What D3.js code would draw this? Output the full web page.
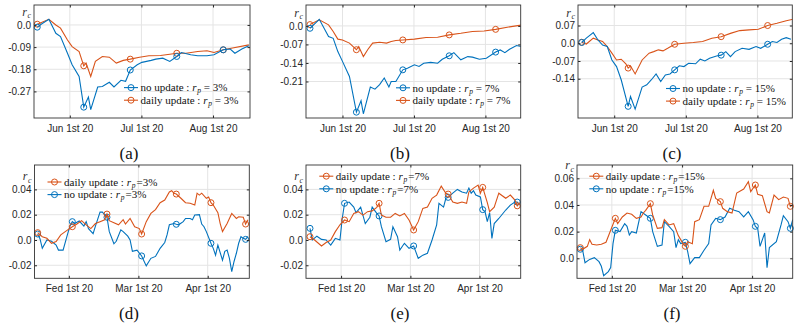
<!DOCTYPE html>
<html>
<head>
<meta charset="utf-8">
<script src="https://cdn.jsdelivr.net/npm/d3@7"></script>
<style>
  body { margin: 0; background: #fff; }
  .tick text { font-family: "Liberation Sans", Arial, sans-serif; font-size: 10px; fill: #262626; }
  .serif { font-family: "Liberation Serif", "Times New Roman", serif; }
</style>
</head>
<body>
<svg id="fig" width="812" height="323"></svg>
<script>
// x ticks (day index) and labels
var topTickIdx = [14, 44.8, 75.6];
var topTickLabels = ["Jun 1st 20", "Jul 1st 20", "Aug 1st 20"];
var botTickIdx = [13.5, 43.6, 73.6];
var botTickLabels = ["Fed 1st 20", "Mar 1st 20", "Apr 1st 20"];

// y ticks per panel
var aYTicks = [0, -0.09, -0.18, -0.27], aYLabels = ["0.0", "-0.09", "-0.18", "-0.27"];
var bYTicks = [0, -0.07, -0.14, -0.21], bYLabels = ["0.0", "-0.07", "-0.14", "-0.21"];
var cYTicks = [0.07, 0, -0.07, -0.14], cYLabels = ["0.07", "0.0", "-0.07", "-0.14"];
var dYTicks = [0.04, 0.02, 0, -0.02], dYLabels = ["0.04", "0.02", "0.0", "-0.02"];
var fYTicks = [0.06, 0.04, 0.02, 0], fYLabels = ["0.06", "0.04", "0.02", "0.0"];

// r_c series, [day index, value]
var aNo = [[0,-0.009],[2,0.005],[5,0.023],[8,-0.034],[10,-0.047],[13,-0.115],[15,-0.162],[18,-0.209],[20,-0.334],[22,-0.293],[23,-0.344],[26,-0.252],[28,-0.250],[31,-0.233],[33,-0.252],[36,-0.225],[38,-0.229],[40,-0.183],[43,-0.162],[45,-0.152],[47,-0.148],[49,-0.144],[51,-0.139],[54,-0.135],[57,-0.148],[60,-0.128],[62,-0.112],[66,-0.121],[69,-0.125],[73,-0.125],[76,-0.121],[80,-0.101],[83,-0.098],[85,-0.115],[88,-0.098],[91,-0.085]];
var aDaily = [[0,0.003],[5,0.023],[8,0.0],[10,-0.013],[13,-0.061],[15,-0.088],[18,-0.108],[20,-0.166],[21,-0.155],[23,-0.209],[25,-0.148],[28,-0.128],[31,-0.131],[34,-0.155],[37,-0.144],[40,-0.139],[44,-0.131],[48,-0.125],[53,-0.124],[57,-0.119],[60,-0.115],[64,-0.115],[69,-0.108],[73,-0.105],[76,-0.112],[80,-0.101],[84,-0.094],[91,-0.081]];

var bNo = [[0,-0.009],[4,0.025],[8,-0.040],[10,-0.047],[12,-0.097],[14,-0.134],[17,-0.191],[20,-0.326],[22,-0.283],[23,-0.332],[26,-0.231],[28,-0.239],[30,-0.222],[32,-0.197],[34,-0.231],[35,-0.210],[37,-0.210],[40,-0.166],[42,-0.160],[45,-0.147],[47,-0.153],[49,-0.141],[52,-0.138],[55,-0.141],[57,-0.126],[60,-0.113],[62,-0.101],[65,-0.128],[68,-0.116],[70,-0.118],[73,-0.126],[76,-0.122],[80,-0.099],[82,-0.091],[84,-0.101],[86,-0.088],[89,-0.074],[91,-0.078]];
var bDaily = [[0,0.005],[4,0.023],[8,0.004],[10,-0.021],[12,-0.050],[14,-0.053],[17,-0.065],[20,-0.090],[21,-0.078],[23,-0.116],[25,-0.088],[27,-0.065],[30,-0.062],[33,-0.065],[35,-0.059],[37,-0.055],[40,-0.053],[45,-0.050],[50,-0.044],[55,-0.043],[60,-0.034],[65,-0.028],[70,-0.021],[75,-0.019],[80,-0.013],[85,-0.005],[91,0.003]];

var cNo = [[0,0.003],[2,0.020],[5,0.042],[7,0.013],[9,-0.007],[11,-0.013],[13,-0.066],[15,-0.092],[17,-0.144],[20,-0.249],[21,-0.210],[23,-0.260],[26,-0.173],[28,-0.164],[30,-0.144],[32,-0.121],[34,-0.151],[36,-0.125],[38,-0.121],[40,-0.105],[42,-0.089],[44,-0.092],[46,-0.079],[49,-0.081],[51,-0.063],[53,-0.070],[55,-0.059],[58,-0.050],[60,-0.047],[62,-0.033],[64,-0.053],[66,-0.033],[69,-0.020],[72,-0.024],[75,-0.013],[77,-0.020],[80,-0.004],[82,0.007],[84,0.003],[86,0.016],[88,0.022],[90,0.016]];
var cDaily = [[0,0.004],[2,-0.003],[5,0.020],[7,0.013],[9,0.007],[11,-0.013],[13,-0.039],[15,-0.066],[17,-0.063],[19,-0.081],[20,-0.098],[21,-0.089],[23,-0.121],[26,-0.066],[29,-0.039],[31,-0.033],[33,-0.026],[35,-0.030],[37,-0.020],[40,-0.004],[44,0.0],[48,0.003],[52,0.007],[56,0.020],[60,0.026],[64,0.039],[68,0.050],[72,0.053],[76,0.055],[80,0.070],[84,0.079],[88,0.089],[91,0.095]];

var dNo = [[0,0.0047],[1,0.001],[2,-0.0066],[4,0.0],[6,-0.001],[8,-0.004],[9,-0.008],[11,-0.008],[13,0.005],[14,0.011],[15,0.0145],[16,0.013],[18,0.015],[20,0.011],[21,0.0145],[22,0.009],[24,0.005],[25,0.011],[27,0.022],[28,0.022],[30,0.018],[31,0.0066],[33,-0.003],[34,-0.001],[36,0.008],[37,0.0066],[39,0.003],[40,0.0],[41,-0.009],[43,-0.008],[45,-0.0126],[47,-0.0205],[49,-0.0145],[51,-0.013],[53,-0.0066],[55,-0.002],[56,0.004],[57,0.012],[59,0.013],[60,0.0124],[61,0.012],[63,0.0145],[64,0.017],[66,0.017],[67,0.016],[68,0.0197],[70,0.020],[71,0.0126],[72,0.0105],[73,0.0066],[75,-0.0026],[76,-0.0066],[77,-0.012],[78,-0.004],[80,-0.016],[81,-0.009],[82,-0.008],[83,-0.0145],[84,-0.025],[85,-0.017],[86,-0.0105],[87,-0.0026],[88,0.0026],[89,0.0013],[90,0.0005],[91,0.0026]];
var dDaily = [[0,0.0058],[2,0.0026],[4,0.0013],[6,-0.0026],[8,-0.0013],[10,0.004],[13,0.008],[15,0.0105],[17,0.0126],[19,0.0153],[21,0.012],[23,0.009],[25,0.013],[27,0.0145],[29,0.016],[30,0.0205],[31,0.0153],[33,0.0137],[35,0.012],[37,0.016],[38,0.0126],[40,0.017],[42,0.0105],[44,0.009],[45,0.0047],[47,0.0145],[49,0.021],[51,0.024],[53,0.0295],[55,0.0316],[57,0.038],[58,0.039],[59,0.037],[60,0.0363],[62,0.033],[64,0.0295],[66,0.029],[68,0.0276],[69,0.037],[70,0.0355],[71,0.037],[73,0.033],[74,0.034],[75,0.0295],[76,0.0276],[78,0.0216],[79,0.013],[80,0.0066],[82,0.013],[84,0.021],[86,0.017],[87,0.0184],[89,0.018],[90,0.0126],[91,0.016]];

var eNo = [[0,0.0092],[1,0.0],[3,0.003],[5,0.0005],[7,0.0],[9,-0.004],[11,0.0013],[13,0.0],[14,0.017],[15,0.029],[17,0.030],[19,0.026],[20,0.0216],[22,0.026],[24,0.013],[26,0.018],[27,0.026],[29,0.021],[30,0.019],[31,0.0105],[33,-0.0013],[35,0.0005],[36,0.0105],[38,0.0026],[39,-0.008],[41,-0.0026],[43,-0.0066],[45,-0.0047],[47,-0.0145],[49,-0.012],[51,-0.0105],[53,0.0],[55,0.012],[56,0.029],[58,0.026],[59,0.033],[60,0.0337],[62,0.037],[64,0.040],[66,0.038],[68,0.037],[69,0.041],[70,0.037],[71,0.039],[72,0.0355],[74,0.034],[75,0.024],[76,0.0224],[77,0.0145],[78,0.0216],[79,0.0013],[80,0.013],[82,0.017],[85,0.0237],[87,0.0276],[89,0.030],[90,0.030],[91,0.0276]];
var eDaily = [[0,0.0026],[2,0.0],[5,-0.0047],[7,-0.002],[9,0.0],[11,0.0066],[13,0.012],[15,0.0158],[17,0.0145],[19,0.021],[21,0.0224],[23,0.0197],[25,0.0224],[27,0.023],[29,0.0258],[30,0.029],[31,0.0197],[33,0.018],[35,0.018],[37,0.021],[39,0.019],[41,0.021],[43,0.0158],[45,0.0079],[47,0.0145],[49,0.025],[51,0.026],[53,0.033],[55,0.0355],[57,0.0426],[59,0.037],[60,0.0363],[62,0.030],[64,0.029],[66,0.030],[68,0.029],[69,0.038],[71,0.041],[73,0.0434],[74,0.037],[75,0.0416],[77,0.0295],[78,0.0224],[80,0.026],[82,0.037],[85,0.033],[87,0.0355],[89,0.0316],[90,0.027],[91,0.0295]];

var fNo = [[0,0.0068],[1,0.006],[2,-0.0033],[4,-0.0008],[6,0.0005],[8,-0.0025],[9,-0.006],[10,-0.013],[12,-0.010],[13,-0.007],[14,0.011],[15,0.021],[17,0.020],[19,0.026],[20,0.024],[21,0.0175],[22,0.020],[24,0.019],[26,0.035],[28,0.0325],[30,0.030],[31,0.020],[33,0.009],[35,0.010],[36,0.0275],[38,0.024],[40,0.020],[41,0.008],[42,0.014],[43,0.011],[45,0.012],[46,0.005],[47,-0.004],[49,0.0005],[51,0.0005],[53,0.006],[55,0.011],[56,0.025],[58,0.030],[60,0.029],[62,0.031],[64,0.0375],[66,0.036],[68,0.035],[70,0.031],[72,0.035],[74,0.029],[75,0.024],[76,0.0225],[77,0.009],[79,0.019],[80,-0.007],[81,0.008],[84,0.0125],[86,0.025],[87,0.032],[89,0.0275],[90,0.0225],[91,0.029]];
var fDaily = [[0,0.008],[1,0.0068],[3,0.009],[4,0.014],[5,0.0105],[7,0.010],[9,0.0105],[11,0.012],[13,0.021],[15,0.030],[16,0.026],[18,0.031],[20,0.034],[22,0.033],[24,0.030],[26,0.031],[27,0.034],[28,0.036],[30,0.041],[31,0.0325],[33,0.0225],[35,0.023],[36,0.029],[38,0.025],[40,0.026],[42,0.017],[44,0.011],[45,0.009],[46,0.0125],[48,0.011],[49,0.0275],[51,0.029],[53,0.039],[55,0.039],[57,0.051],[58,0.045],[60,0.0425],[61,0.0375],[63,0.035],[65,0.034],[67,0.049],[70,0.052],[72,0.0575],[73,0.050],[75,0.055],[76,0.048],[78,0.047],[80,0.035],[81,0.034],[83,0.0475],[85,0.044],[87,0.046],[89,0.045],[90,0.039],[91,0.040]];

var blue = "#0072BD", orange = "#D95319";
var svg = d3.select("#fig");

// one subplot
var panels = [
  {id: "a", box: [34, 5, 250, 118], xDom: [-1.4, 91.5], yDom: [-0.378, 0.081], yTicks: aYTicks, yLabels: aYLabels,
   xTicks: topTickIdx, xLabels: topTickLabels, step: 20, rate: "3%", spaced: true,
   series: [{name: "no update", data: aNo, color: blue}, {name: "daily update", data: aDaily, color: orange}],
   legend: [124, 87.6, 12.6], capX: 129, capY: 159},
  {id: "b", box: [306, 5, 520.7, 118], xDom: [-1.72, 90.8], yDom: [-0.348, 0.079], yTicks: bYTicks, yLabels: bYLabels,
   xTicks: topTickIdx, xLabels: topTickLabels, step: 20, rate: "7%", spaced: true,
   series: [{name: "no update", data: bNo, color: blue}, {name: "daily update", data: bDaily, color: orange}],
   legend: [396, 87.8, 12.6], capX: 400, capY: 159},
  {id: "c", box: [578, 5, 792.3, 118], xDom: [-1.58, 90.6], yDom: [-0.295, 0.151], yTicks: cYTicks, yLabels: cYLabels,
   xTicks: topTickIdx, xLabels: topTickLabels, step: 20, rate: "15%", spaced: true,
   series: [{name: "no update", data: cNo, color: blue}, {name: "daily update", data: cDaily, color: orange}],
   legend: [666, 88.5, 12.6], capX: 672, capY: 159},
  {id: "d", box: [34.5, 165, 249.3, 278.3], xDom: [-1.37, 91.6], yDom: [-0.0303, 0.0593], yTicks: dYTicks, yLabels: dYLabels,
   xTicks: botTickIdx, xLabels: botTickLabels, step: 15, rate: "3%", spaced: false,
   series: [{name: "daily update", data: dDaily, color: orange}, {name: "no update", data: dNo, color: blue}],
   legend: [47.5, 182, 12.6], capX: 129, capY: 319},
  {id: "e", box: [306, 165, 520.7, 278.3], xDom: [-1.74, 91.5], yDom: [-0.0303, 0.0593], yTicks: dYTicks, yLabels: dYLabels,
   xTicks: botTickIdx, xLabels: botTickLabels, step: 15, rate: "7%", spaced: false,
   series: [{name: "daily update", data: eDaily, color: orange}, {name: "no update", data: eNo, color: blue}],
   legend: [319.3, 176.2, 12.6], capX: 400, capY: 319},
  {id: "f", box: [577, 165, 792.7, 278.3], xDom: [-1.43, 91.0], yDom: [-0.015, 0.070], yTicks: fYTicks, yLabels: fYLabels,
   xTicks: botTickIdx, xLabels: botTickLabels, step: 15, rate: "15%", spaced: false,
   series: [{name: "daily update", data: fDaily, color: orange}, {name: "no update", data: fNo, color: blue}],
   legend: [589.3, 176.2, 12.6], capX: 672, capY: 319}
];

panels.forEach(function(p) {
  var x0 = p.box[0], y0 = p.box[1], x1 = p.box[2], y1 = p.box[3];
  var x = d3.scaleLinear().domain(p.xDom).range([x0, x1]);
  var y = d3.scaleLinear().domain(p.yDom).range([y1, y0]);
  var g = svg.append("g");

  svg.append("clipPath").attr("id", "clip-" + p.id)
    .append("rect").attr("x", x0).attr("y", y0).attr("width", x1 - x0).attr("height", y1 - y0);

  // grid
  g.selectAll(".gx").data(p.xTicks).join("line")
      .attr("x1", function(d) { return x(d); }).attr("x2", function(d) { return x(d); })
      .attr("y1", y0).attr("y2", y1)
      .attr("stroke", "#e4e4e4").attr("stroke-width", 1);
  g.selectAll(".gy").data(p.yTicks).join("line")
      .attr("y1", function(d) { return y(d); }).attr("y2", function(d) { return y(d); })
      .attr("x1", x0).attr("x2", x1)
      .attr("stroke", "#e4e4e4").attr("stroke-width", 1);

  // lines + markers
  var line = d3.line().x(function(d) { return x(d[0]); }).y(function(d) { return y(d[1]); });
  p.series.slice().reverse().forEach(function(s) {
    g.append("path").datum(s.data)
        .attr("clip-path", "url(#clip-" + p.id + ")")
        .attr("d", line).attr("fill", "none")
        .attr("stroke", s.color).attr("stroke-width", 1.1);
    g.selectAll(null).data(s.data.filter(function(d) { return d[0] % p.step === 0; })).join("circle")
        .attr("cx", function(d) { return x(d[0]); }).attr("cy", function(d) { return y(d[1]); })
        .attr("r", 3).attr("fill", "none").attr("stroke", s.color).attr("stroke-width", 1);
  });

  // axes, ticks inside
  g.append("g").attr("transform", "translate(0," + y1 + ")")
      .call(d3.axisBottom(x).tickValues(p.xTicks).tickFormat(function(d, i) { return p.xLabels[i]; })
        .tickSizeInner(-2.5).tickSizeOuter(0).tickPadding(6.5))
      .call(function(a) { a.select(".domain").remove(); a.selectAll("line").attr("stroke", "#262626"); });
  g.append("g").attr("transform", "translate(" + x0 + ",0)")
      .call(d3.axisLeft(y).tickValues(p.yTicks).tickFormat(function(d, i) { return p.yLabels[i]; })
        .tickSizeInner(-2.5).tickSizeOuter(0).tickPadding(3))
      .call(function(a) { a.select(".domain").remove(); a.selectAll("line").attr("stroke", "#262626"); });
  g.append("g").attr("transform", "translate(0," + y0 + ")")
      .call(d3.axisTop(x).tickValues(p.xTicks).tickFormat("").tickSizeInner(-2.5).tickSizeOuter(0))
      .call(function(a) { a.select(".domain").remove(); a.selectAll("line").attr("stroke", "#262626"); });
  g.append("g").attr("transform", "translate(" + x1 + ",0)")
      .call(d3.axisRight(y).tickValues(p.yTicks).tickFormat("").tickSizeInner(-2.5).tickSizeOuter(0))
      .call(function(a) { a.select(".domain").remove(); a.selectAll("line").attr("stroke", "#262626"); });

  g.append("rect").attr("x", x0).attr("y", y0).attr("width", x1 - x0).attr("height", y1 - y0)
      .attr("fill", "none").attr("stroke", "#333").attr("stroke-width", 0.9);

  // r_c label
  var rc = g.append("text").attr("class", "serif")
      .attr("x", x0 - 3).attr("y", y(p.yTicks[0]) - 9)
      .attr("text-anchor", "end").attr("fill", "#333").style("font-size", "12px").style("font-style", "italic");
  rc.append("tspan").text("r");
  rc.append("tspan").attr("dx", 0.6).attr("dy", 2.5).style("font-size", "8px").text("c");

  // legend
  p.series.forEach(function(s, i) {
    var lx = p.legend[0], ly = p.legend[1] + i * p.legend[2];
    g.append("line").attr("x1", lx).attr("x2", lx + 14).attr("y1", ly).attr("y2", ly)
        .attr("stroke", s.color).attr("stroke-width", 1.1);
    g.append("circle").attr("cx", lx + 7).attr("cy", ly).attr("r", 3)
        .attr("fill", "none").attr("stroke", s.color).attr("stroke-width", 1);
    var t = g.append("text").attr("class", "serif").attr("x", lx + 16.5).attr("y", ly + 3.8)
        .attr("fill", "#111").style("font-size", "11px");
    t.append("tspan").text(s.name + " : ");
    t.append("tspan").style("font-style", "italic").text("r");
    t.append("tspan").attr("dx", 0.8).attr("dy", 2).style("font-size", "7.5px").style("font-style", "italic").text("p");
    t.append("tspan").attr("dx", p.spaced ? 0 : 1).attr("dy", -2).text(p.spaced ? " = " + p.rate : "=" + p.rate);
  });

  // caption
  svg.append("text").attr("class", "serif")
      .attr("x", p.capX).attr("y", p.capY).attr("text-anchor", "middle")
      .attr("fill", "#111").style("font-size", "17px").text("(" + p.id + ")");
});
</script>
</body>
</html>
